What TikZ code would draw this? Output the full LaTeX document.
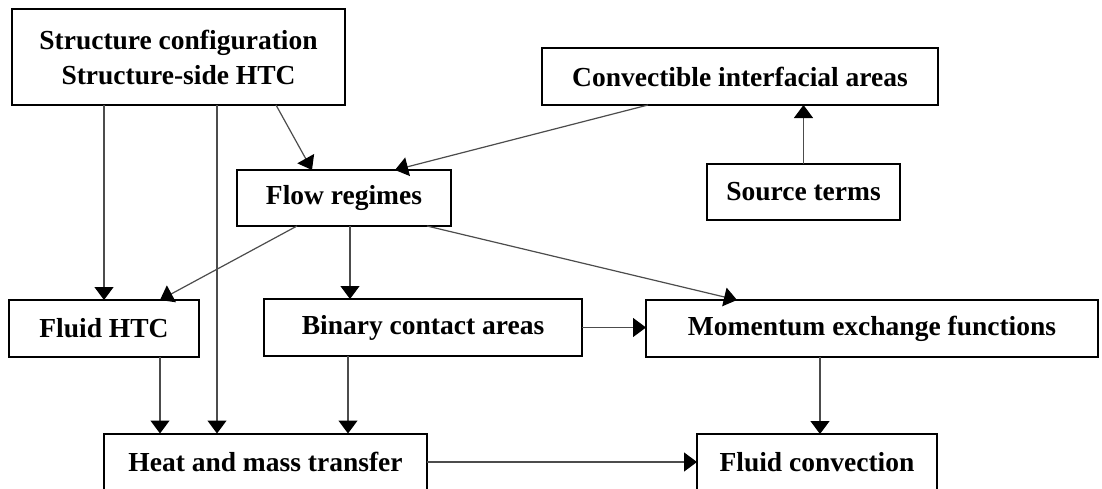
\documentclass[tikz,border=0pt]{standalone}
\usepackage{fontspec}
\setmainfont{Liberation Serif}
\usepackage{tikz}
\usetikzlibrary{positioning, arrows.meta, calc}

\begin{document}
\begin{tikzpicture}[
            x=1pt, y=-1pt,
            box/.style={rectangle, draw=black, line width=2pt, fill=white, inner sep=0pt, outer sep=0pt, minimum height=57pt, align=center, font=\fontsize{27.5}{35}\selectfont\bfseries},
            arr/.style={-{Triangle[length=13pt, width=19pt, color=black]}, line width=1.2pt, draw=black!70}
            ]

            \clip (0,0) rectangle (1102,488);
            \fill[white] (0,0) rectangle (1102,488);

            % Top row
            \node[box, minimum width=333pt, minimum height=96pt] (struct) at (178.5,57) {Structure configuration\\Structure-side HTC};
            \node[box, minimum width=396pt] (conv) at (740,76.5) {Convectible interfacial areas};

            % Middle row
            \node[box, minimum width=214pt, minimum height=56pt] (flow) at (344,198) {Flow regimes};
            \node[box, minimum width=193pt, minimum height=56pt] (source) at (803.5,192) {Source terms};

            % Lower row
            \node[box, minimum width=190pt] (fluidhtc) at (104,328.5) {Fluid HTC};
            \node[box, minimum width=318pt] (binary) at (423,327.5) {Binary contact areas};
            \node[box, minimum width=452pt] (momentum) at (872,328.5) {Momentum exchange functions};

            % Bottom row
            \node[box, minimum width=323pt] (heat) at (265.5,462) {Heat and mass transfer};
            \node[box, minimum width=240pt] (fluidconv) at (817,462.5) {Fluid convection};

            % Helper points on the boxes
            \coordinate (hm1) at ($(heat.north)+(-48.5,0)$);
            \coordinate (hm2) at ($(heat.north)+(-105.5,0)$);
            \coordinate (hm3) at ($(heat.north)+(82.5,0)$);
            \coordinate (fc1) at ($(fluidconv.north)+(3,0)$);
            \coordinate (fr1) at ($(flow.south)+(6,0)$);

            % Edges
            \draw[arr] (struct.south -| fluidhtc.north) -- (fluidhtc.north);
            \draw[arr] (hm1 |- struct.south) -- (hm1);
            \draw[arr] ($(struct.south east)+(-69,0)$) -- ($(flow.north)+(-32,0)$);
            \draw[arr] ($(conv.south west)+(106,0)$) -- ($(flow.north)+(51,0)$);
            \draw[arr] (source.north) -- (source.north |- conv.south);

            \draw[arr] ($(flow.south)+(-47,0)$) -- ($(fluidhtc.north)+(56,0)$);
            \draw[arr] (fr1) -- (fr1 |- binary.north);
            \draw[arr] ($(flow.south east)+(-24,0)$) -- ($(momentum.north west)+(91,0)$);
            \draw[arr] (binary.east) -- (binary.east -| momentum.west);

            \draw[arr] (hm2 |- fluidhtc.south) -- (hm2);
            \draw[arr] (hm3 |- binary.south) -- (hm3);
            \draw[arr] (fc1 |- momentum.south) -- (fc1);
            \draw[arr] (heat.east) -- (heat.east -| fluidconv.west);

        \end{tikzpicture}
\end{document}
